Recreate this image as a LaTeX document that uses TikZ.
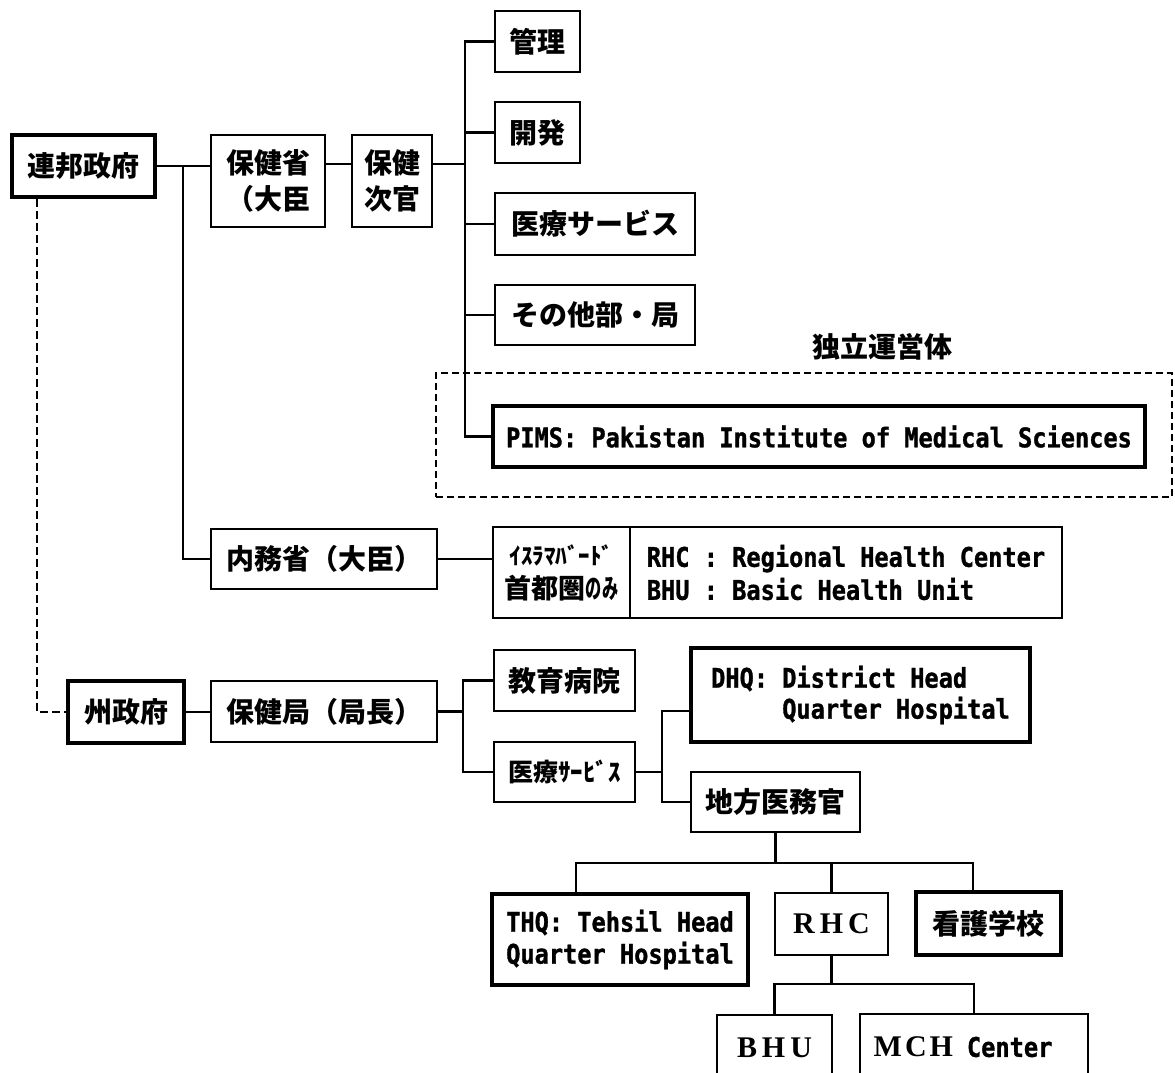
\documentclass[tikz,border=0pt]{standalone}
\usepackage{fontspec}
\usepackage{graphicx}
\newfontfamily\jp{Noto Sans CJK JP}
\newfontfamily\mono[FakeStretch=0.875,FakeBold=1.2]{DejaVu Sans Mono Bold}
\newfontfamily\ser{Liberation Serif}
\usetikzlibrary{calc}
\begin{document}
\begin{tikzpicture}[x=1pt,y=-1pt,
  box/.style={draw, line width=2.2pt, inner sep=0pt, align=center,
    font=\jp\bfseries\fontsize{28}{36}\selectfont},
  thickbox/.style={box, line width=3.2pt},
  en/.style={font=\mono\fontsize{27}{32}\selectfont},
  sz/.style 2 args={minimum width=#1pt, minimum height=#2pt},
  conn/.style={line width=2.1pt},
  dconn/.style={line width=2pt, dash pattern=on 8pt off 4pt},
  frame/.style={draw, line width=1.6pt, dash pattern=on 7pt off 4pt, inner sep=0pt},
  lbl/.style={inner sep=0pt, font=\jp\bfseries\fontsize{28}{34}\selectfont}]
\useasboundingbox (0,0) rectangle (1175,1073);
\clip (0,0) rectangle (1175,1073);
\fill[white] (0,0) rectangle (1175,1073);

% federal level
\node[thickbox, sz={143}{62}] (fed) at (83.5,166) {連邦政府};
\node[box, sz={114}{92}] (moh) at (268,181) {保健省\\（大臣};
\node[box, sz={80}{92}] (vm) at (392,181) {保健\\次官};

\node[box, sz={85}{61}] (kanri) at (537.5,41.5) {管理};
\node[box, sz={85}{61}] (kaihatsu) at (537.5,132.5) {開発};
\node[box, sz={200}{62}] (iryo) at (595,224) {医療サービス};
\node[box, sz={200}{60}] (sonota) at (595,315) {その他部・局};

\node[lbl] (grplabel) at (882,347) {独立運営体};
\node[frame, sz={736}{124}] (grp) at (804,435) {};
\node[thickbox, en, sz={652}{61}] (pims) at (819,436.5) {PIMS: Pakistan Institute of Medical Sciences};

\node[box, sz={226}{60}] (naimu) at (324,559) {内務省（大臣）};
\node[box, sz={137}{91}, font=\jp\bfseries\fontsize{27}{34}\selectfont] (isl) at (561.5,572.5)
  {\scalebox{0.85}{ｲｽﾗﾏﾊﾞｰﾄﾞ}\\首都圏\scalebox{0.6}[1]{のみ}};
\node[box, en, sz={432}{91}, align=left, font=\mono\fontsize{27}{33}\selectfont] (rhcdef) at (846,572.5)
  {RHC : Regional Health Center\\BHU : Basic Health Unit};

% provincial level
\node[thickbox, sz={116}{62}] (shu) at (126,712) {州政府};
\node[box, sz={226}{61}] (hk) at (324,711.5) {保健局（局長）};
\node[box, sz={141}{61}] (kyoiku) at (564.5,680.5) {教育病院};
\node[box, sz={141}{60}, font=\jp\bfseries\fontsize{25}{30}\selectfont] (iryo2) at (564.5,772) {医療ｻｰﾋﾞｽ};
\node[thickbox, en, sz={339}{94}, align=left, font=\mono\fontsize{27}{31}\selectfont] (dhq) at (860.5,695)
  {DHQ: District Head\\\phantom{DHQ:~}Quarter Hospital};
\node[box, sz={169}{60}] (chiho) at (775.5,802) {地方医務官};

\node[thickbox, en, sz={256}{91}] (thq) at (620,939.5) {THQ: Tehsil Head\\Quarter Hospital};
\node[box, sz={113}{62}] (rhc) at (831.5,924) {\ser\bfseries\fontsize{30}{34}\selectfont R\hspace{5pt}H\hspace{5pt}C};
\node[thickbox, sz={145}{63}] (kango) at (988.5,923.5) {看護学校};
\node[box, sz={115}{66}] (bhu) at (774.5,1048) {\ser\bfseries\fontsize{30}{34}\selectfont B\hspace{5pt}H\hspace{5pt}U};
\node[box, sz={228}{66}] (mch) at (974,1047)
  {{\ser\bfseries\fontsize{30}{34}\selectfont M\hspace{3pt}C\hspace{3pt}H}\hspace{14pt}{\mono\fontsize{27}{32}\selectfont Center}\hspace{22pt}};

% connectors: federal
\coordinate (j1) at (183,166);
\coordinate (j2) at (465,164);
\draw[conn] (fed.east) -- (moh.west |- fed.east);
\draw[conn] (j1) |- (naimu.west);
\draw[conn] (moh.east |- j2) -- (vm.west |- j2);
\draw[conn] (vm.east |- j2) -- (j2);
\draw[conn] (kanri.west) -| (j2 |- pims.west) -- (pims.west);
\draw[conn] (kaihatsu.west) -- (kaihatsu.west -| j2);
\draw[conn] (iryo.west) -- (iryo.west -| j2);
\draw[conn] (sonota.west) -- (sonota.west -| j2);
\draw[conn] (naimu.east) -- (naimu.east -| isl.west);

% federal to provincial
\draw[dconn] ([xshift=27pt]fed.south west) |- (shu.west);

% connectors: provincial
\coordinate (t3) at (463,711.5);
\coordinate (t4) at (662,772);
\draw[conn] (shu.east) -- (shu.east -| hk.west);
\draw[conn] (hk.east) -- (hk.east -| t3);
\draw[conn] (kyoiku.west) -| (t3 |- iryo2.west) -- (iryo2.west);
\draw[conn] (iryo2.east) -- (t4);
\draw[conn] ([yshift=-16pt]dhq.west) -| (t4 |- chiho.west) -- (chiho.west);

\coordinate (h1) at (775.5,863);
\draw[conn] (chiho.south) -- (h1);
\draw[conn] ([xshift=-44pt]thq.north) |- ([xshift=-15.5pt]kango.north |- h1) -- ([xshift=-15.5pt]kango.north);
\draw[conn] (rhc.north) -- (rhc.north |- h1);

\coordinate (h2) at (831.5,984);
\draw[conn] (rhc.south) -- (h2);
\draw[conn] (bhu.north) |- (mch.north |- h2) -- (mch.north);
\end{tikzpicture}
\end{document}
